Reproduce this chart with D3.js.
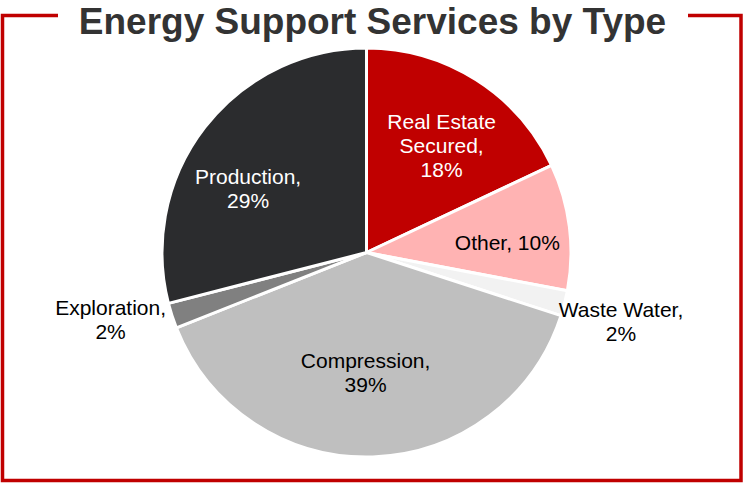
<!DOCTYPE html>
<html>
<head>
<meta charset="utf-8">
<script src="https://cdn.jsdelivr.net/npm/d3@7"></script>
<style>
  html, body { margin: 0; padding: 0; background: #fff; }
  svg { display: block; }
</style>
</head>
<body>
<svg id="chart" width="744" height="484"></svg>
<script>
// Share of energy support services portfolio, clockwise from 12 o'clock
const categories = ["Real Estate Secured", "Other", "Waste Water", "Compression", "Exploration", "Production"];
const values = [18, 10, 2, 39, 2, 29];
const sliceColors = ["#C00000", "#FFB3B3", "#F2F2F2", "#BFBFBF", "#808080", "#2B2C2E"];
const labelColors = ["#FFFFFF", "#000000", "#000000", "#000000", "#000000", "#FFFFFF"];
// Label text lines for each slice
const labelLines = [
  ["Real Estate", "Secured,", "18%"],
  ["Other, 10%"],
  ["Waste Water,", "2%"],
  ["Compression,", "39%"],
  ["Exploration,", "2%"],
  ["Production,", "29%"]
];
const outsideLabel = [false, false, true, false, true, false];
// Fine label placement offsets relative to the computed anchor
const labelShift = [[5, 4], [11, 6], [-1, 3], [-5, -11], [-5, -15], [-15, 16]];

const W = 744, H = 484;
const cx = 366.5, cy = 252.5, R = 204.5;
const svg = d3.select("#chart");

// Frame with an opening for the title
const frame = d3.path();
frame.moveTo(58, 15.5);
frame.lineTo(2.5, 15.5);
frame.lineTo(2.5, 480.5);
frame.lineTo(741, 480.5);
frame.lineTo(741, 15.5);
frame.lineTo(688, 15.5);
svg.append("path")
  .attr("d", frame.toString())
  .attr("fill", "none")
  .attr("stroke", "#C00000")
  .attr("stroke-width", 3.5);

svg.append("text")
  .attr("x", 372.5)
  .attr("y", 34)
  .attr("text-anchor", "middle")
  .attr("font-family", "'Liberation Sans', Arial, sans-serif")
  .attr("font-weight", "bold")
  .attr("font-size", 37)
  .attr("fill", "#333333")
  .text("Energy Support Services by Type");

const data = categories.map((c, i) => ({ name: c, value: values[i], i }));
const pie = d3.pie().value(d => d.value).sort(null);
const arcs = pie(data);
const arc = d3.arc().innerRadius(0).outerRadius(R);
const insideArc = d3.arc().innerRadius(R * 0.64).outerRadius(R * 0.64);
const outsideArc = d3.arc().innerRadius(R * 1.29).outerRadius(R * 1.29);

const g = svg.append("g").attr("transform", `translate(${cx},${cy})`);

g.selectAll("path.slice")
  .data(arcs)
  .join("path")
  .attr("class", "slice")
  .attr("d", arc)
  .attr("fill", d => sliceColors[d.data.i])
  .attr("stroke", "#FFFFFF")
  .attr("stroke-width", 3)
  .attr("stroke-linejoin", "round");

const lineH = 24;
const labels = g.selectAll("text.lbl")
  .data(arcs)
  .join("text")
  .attr("class", "lbl")
  .attr("text-anchor", "middle")
  .attr("font-family", "'Liberation Sans', Arial, sans-serif")
  .attr("font-size", 21)
  .attr("fill", d => labelColors[d.data.i])
  .attr("transform", d => {
    const p = (outsideLabel[d.data.i] ? outsideArc : insideArc).centroid(d);
    const s = labelShift[d.data.i];
    return `translate(${p[0] + s[0]},${p[1] + s[1]})`;
  });

labels.each(function(d) {
  const lines = labelLines[d.data.i];
  const n = lines.length;
  d3.select(this).selectAll("tspan")
    .data(lines)
    .join("tspan")
    .attr("x", 0)
    .attr("y", (t, k) => (k - (n - 1) / 2) * lineH + 7.5)
    .text(t => t);
});
</script>
</body>
</html>
